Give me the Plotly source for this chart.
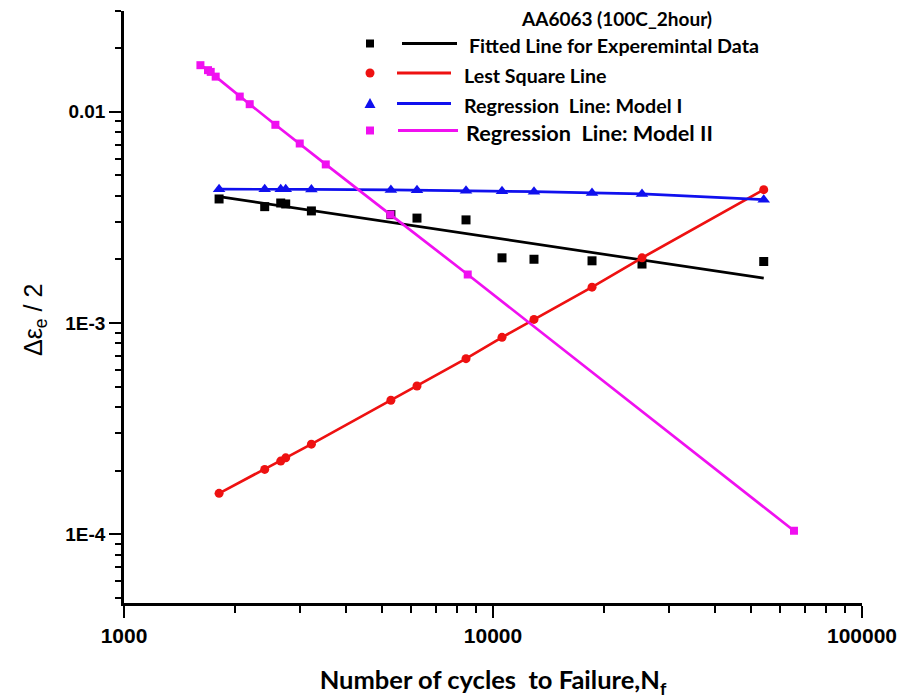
import plotly.graph_objects as go

# ---------------- data ----------------
cycles = [1810, 2406, 2659, 2743, 3220, 5288, 6223, 8450, 10578, 12915, 18550, 25340, 54160]
exp_strain = [3.867e-3, 3.556e-3, 3.70e-3, 3.662e-3, 3.394e-3, 3.26e-3, 3.139e-3, 3.078e-3,
              2.035e-3, 2.004e-3, 1.970e-3, 1.902e-3, 1.955e-3]
fit_cycles = [1810, 54160]
fit_strain = [3.965e-3, 1.630e-3]
lsq_strain = [1.561e-4, 2.026e-4, 2.218e-4, 2.299e-4, 2.669e-4, 4.306e-4, 5.03e-4, 6.78e-4,
              8.55e-4, 1.04e-3, 1.478e-3, 2.035e-3, 4.279e-3]
model1_strain = [4.302e-3, 4.302e-3, 4.302e-3, 4.302e-3, 4.293e-3, 4.266e-3, 4.256e-3, 4.233e-3,
                 4.210e-3, 4.187e-3, 4.128e-3, 4.084e-3, 3.838e-3]
model2_cycles = [1611, 1689, 1718, 1772, 2059, 2191, 2572, 2994, 3522, 5272, 8541, 65410]
model2_strain = [0.01663, 0.01575, 0.01546, 0.01468, 0.01181, 0.01087, 8.68e-3, 7.08e-3,
                 5.636e-3, 3.26e-3, 1.697e-3, 1.038e-4]

x_tickvals = [1000, 10000, 100000]
x_ticktext = ["1000", "10000", "100000"]
y_tickvals = [1e-4, 1e-3, 1e-2]
y_ticktext = ["1E-4", "1E-3", "0.01"]

legend_title = "AA6063 (100C_2hour)"
legend_names = ["Fitted Line for Experemintal Data", "Lest Square Line",
                "Regression\u00a0 Line: Model I", "Regression\u00a0 Line: Model II"]

BLACK = "#000000"
RED = "#ee1111"
BLUE = "#1010ee"
MAGENTA = "#f010f0"

fig = go.Figure()
fig.add_trace(go.Scatter(x=cycles, y=exp_strain, mode="markers",
                         marker=dict(symbol="square", size=9, color=BLACK), showlegend=False))
fig.add_trace(go.Scatter(x=fit_cycles, y=fit_strain, mode="lines",
                         line=dict(color=BLACK, width=2.7), showlegend=False))
fig.add_trace(go.Scatter(x=cycles, y=lsq_strain, mode="lines+markers",
                         line=dict(color=RED, width=2.7),
                         marker=dict(symbol="circle", size=9, color=RED), showlegend=False))
fig.add_trace(go.Scatter(x=cycles, y=model1_strain, mode="lines+markers",
                         line=dict(color=BLUE, width=2.7),
                         marker=dict(symbol="triangle-up", size=11, color=BLUE), showlegend=False))
fig.add_trace(go.Scatter(x=model2_cycles, y=model2_strain, mode="lines+markers",
                         line=dict(color=MAGENTA, width=2.7),
                         marker=dict(symbol="square", size=8, color=MAGENTA), showlegend=False))

# ---------------- layout ----------------
L, R, T, B = 124, 41, 11, 97
W, H = 903, 700
PW, PH = W - L - R, H - T - B


def px(xp):
    return (xp - L) / PW


def py(yp):
    return (H - B - yp) / PH


x_minor = [m * 10 ** e for e in (3, 4) for m in range(2, 10)]
y_minor = [m * 10 ** e for e in (-5, -4, -3, -2) for m in range(2, 10)
           if 4.8e-5 <= m * 10 ** e <= 0.0301]

fig.update_xaxes(type="log", range=[3, 5], tickmode="array", tickvals=x_tickvals, ticktext=x_ticktext,
                 automargin=False,
                 showline=True, linecolor=BLACK, linewidth=2.5, showgrid=False, zeroline=False,
                 ticks="outside", ticklen=12, tickwidth=2, tickcolor=BLACK,
                 tickfont=dict(family="Liberation Sans", size=21, color=BLACK, weight="bold"),
                 minor=dict(tickmode="array", tickvals=x_minor, ticks="outside", ticklen=7,
                            tickwidth=2, tickcolor=BLACK, showgrid=False),
                 title=dict(text="Number of cycles\u00a0 to Failure,N<sub>f</sub>",
                            font=dict(family="Lato", size=25.5, color=BLACK, weight="bold"),
                            standoff=26))
fig.update_yaxes(type="log", range=[-4.326, -1.5225], tickmode="array", tickvals=y_tickvals,
                 ticktext=y_ticktext, automargin=False,
                 showline=True, linecolor=BLACK, linewidth=2.5, showgrid=False, zeroline=False,
                 ticks="outside", ticklen=12, tickwidth=2, tickcolor=BLACK,
                 tickfont=dict(family="Liberation Sans", size=19, color=BLACK, weight="bold"),
                 minor=dict(tickmode="array", tickvals=y_minor, ticks="outside", ticklen=6,
                            tickwidth=2, tickcolor=BLACK, showgrid=False))

annotations = [
    dict(text="\u0394\u03b5<sub>e</sub> / 2", textangle=-90, xref="paper", yref="paper",
         x=px(35), y=py(320), xanchor="center", yanchor="middle", showarrow=False,
         font=dict(family="Liberation Sans", size=25, color=BLACK)),
    dict(text=legend_title, xref="paper", yref="paper", x=px(616), y=py(18),
         xanchor="center", yanchor="middle", showarrow=False,
         font=dict(family="Lato", size=19, color=BLACK, weight="bold")),
]
shapes = []

rows_y = [43.5, 73, 103.5, 130.5]
text_y = [45, 75.5, 105.5, 132.5]
line_x = [(402, 457), (397, 451), (397, 451), (398, 458)]
text_x = [467, 462, 462, 464]
text_size = [19.7, 19.6, 19.7, 21.7]
colors = [BLACK, RED, BLUE, MAGENTA]
mx = 370

for i in range(4):
    c = colors[i]
    yy = rows_y[i]
    shapes.append(dict(type="line", xref="paper", yref="paper",
                       x0=px(line_x[i][0]), x1=px(line_x[i][1]), y0=py(yy), y1=py(yy),
                       line=dict(color=c, width=3)))
    annotations.append(dict(text=legend_names[i], xref="paper", yref="paper",
                            x=px(text_x[i]), y=py(text_y[i]), xanchor="left", yanchor="middle",
                            showarrow=False,
                            font=dict(family="Lato", size=text_size[i], color=BLACK, weight="bold")))
    if i in (0, 3):
        s = 4
        shapes.append(dict(type="rect", xref="paper", yref="paper",
                           x0=px(mx - s), x1=px(mx + s), y0=py(yy - s), y1=py(yy + s),
                           fillcolor=c, line=dict(width=0)))
    elif i == 1:
        s = 4.5
        shapes.append(dict(type="circle", xref="paper", yref="paper",
                           x0=px(mx - s), x1=px(mx + s), y0=py(yy - s), y1=py(yy + s),
                           fillcolor=c, line=dict(width=0)))
    else:
        path = "M {:.5f},{:.5f} L {:.5f},{:.5f} L {:.5f},{:.5f} Z".format(
            px(mx), py(yy - 5.5), px(mx - 5.5), py(yy + 4.5), px(mx + 5.5), py(yy + 4.5))
        shapes.append(dict(type="path", xref="paper", yref="paper", path=path,
                           fillcolor=c, line=dict(width=0)))

fig.update_layout(width=W, height=H, margin=dict(l=L, r=R, t=T, b=B, pad=0),
                  paper_bgcolor="white", plot_bgcolor="white", showlegend=False,
                  annotations=annotations, shapes=shapes)

fig.write_html("out.html")
